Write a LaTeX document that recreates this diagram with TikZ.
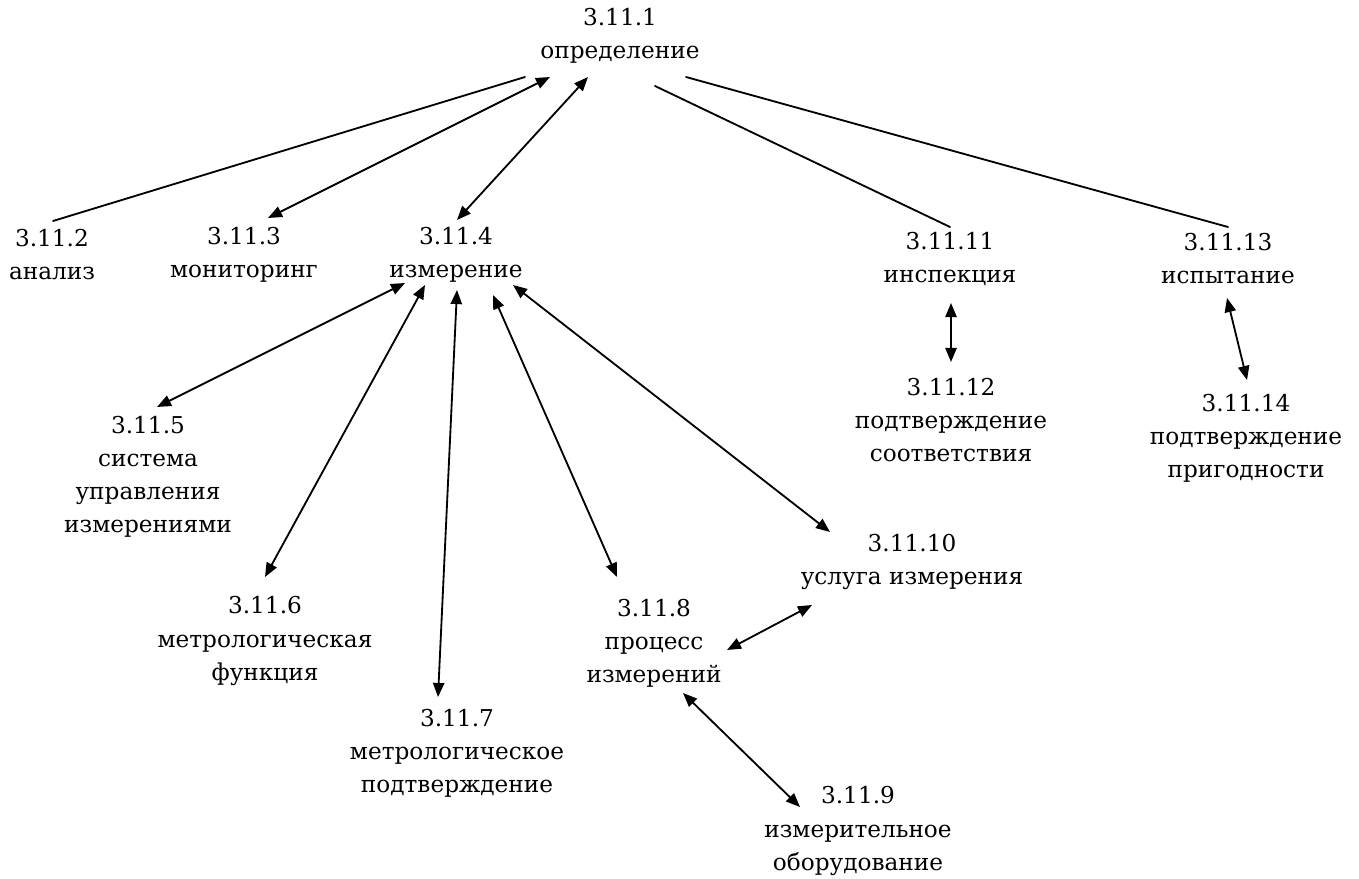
\documentclass[tikz,border=0pt]{standalone}
\usepackage{fontspec}
\setmainfont{DejaVu Serif}
\usepackage{tikz}
\usetikzlibrary{
    arrows.meta,
    calc,
    positioning
}

\begin{document}
\begin{tikzpicture}[x=0.025cm, y=-0.025cm,
        every node/.style={align=center, inner sep=0pt, font=\fontsize{16.5}{23.5}\selectfont},
        link/.style={line width=1.3pt, line cap=round},
        dlink/.style={link, {Triangle[length=10pt,width=8pt]}-{Triangle[length=10pt,width=8pt]}}]

    \useasboundingbox (0,0) rectangle (1359,879);

    % terms
    \node (n1)  at (620,36)   {3.11.1\\определение};
    \node (n2)  at (52,255)   {3.11.2\\анализ};
    \node (n3)  at (244,255)  {3.11.3\\мониторинг};
    \node (n4)  at (456,255)  {3.11.4\\измерение};
    \node (n5)  at (148,477)  {3.11.5\\система\\управления\\измерениями};
    \node (n6)  at (265,641)  {3.11.6\\метрологическая\\функция};
    \node (n7)  at (457,753)  {3.11.7\\метрологическое\\подтверждение};
    \node (n8)  at (654,643)  {3.11.8\\процесс\\измерений};
    \node (n9)  at (858,831)  {3.11.9\\измерительное\\оборудование};
    \node (n10) at (912,562)  {3.11.10\\услуга измерения};
    \node (n11) at (950,259)  {3.11.11\\инспекция};
    \node (n12) at (951,420)  {3.11.12\\подтверждение\\соответствия};
    \node (n13) at (1228,259) {3.11.13\\испытание};
    \node (n14) at (1246,438) {3.11.14\\подтверждение\\пригодности};

    % links from 3.11.1
    \draw[link] ($(n1)+(-95,41)$) -- ($(n2)+(1,-34)$);
    \draw[dlink] ($(n1)+(-70,41)$) -- ($(n3)+(24,-37)$);
    \draw[dlink] ($(n1)+(-32,41)$) -- ($(n4)+(1,-35)$);
    \draw[link] ($(n1)+(35,50)$) -- ($(n11)+(0,-32)$);
    \draw[link] ($(n1)+(66,41)$) -- ($(n13)+(0,-32)$);

    % links from 3.11.4
    \draw[dlink] ($(n4)+(-51,28)$) -- ($(n5)+(9,-70)$);
    \draw[dlink] ($(n4)+(-31,30)$) -- ($(n6)+(0,-64)$);
    \draw[dlink] ($(n4)+(1,35)$)   -- ($(n7)+(-19,-56)$);
    \draw[dlink] ($(n4)+(37,40)$)  -- ($(n8)+(-37,-66)$);
    \draw[dlink] ($(n4)+(57,30)$)  -- ($(n10)+(-82,-30)$);

    % other pairs
    \draw[dlink] ($(n8)+(73,7)$)   -- ($(n10)+(-100,43)$);
    \draw[dlink] ($(n8)+(29,50)$)  -- ($(n9)+(-58,-24)$);
    \draw[dlink] ($(n11)+(1,44)$)  -- ($(n12)+(0,-58)$);
    \draw[dlink] ($(n13)+(-1,39)$) -- ($(n14)+(1,-58)$);
\end{tikzpicture}
\end{document}
